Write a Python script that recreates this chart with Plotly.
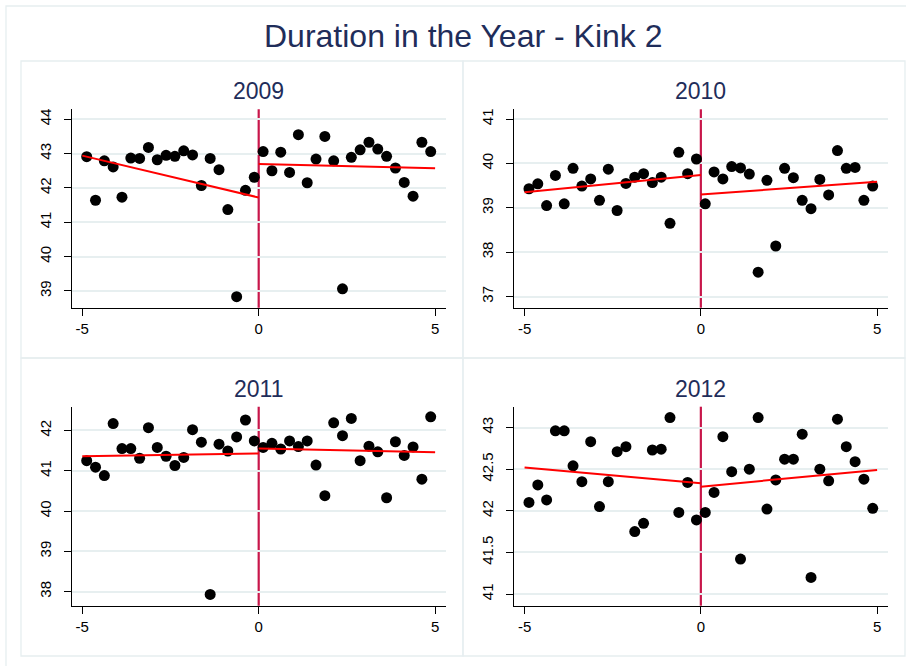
import plotly.graph_objects as go

W, H = 906, 666

bins = [-4.875, -4.625, -4.375, -4.125, -3.875, -3.625, -3.375, -3.125, -2.875, -2.625,
        -2.375, -2.125, -1.875, -1.625, -1.375, -1.125, -0.875, -0.625, -0.375, -0.125,
        0.125, 0.375, 0.625, 0.875, 1.125, 1.375, 1.625, 1.875, 2.125, 2.375,
        2.625, 2.875, 3.125, 3.375, 3.625, 3.875, 4.125, 4.375, 4.625, 4.875]

years = ["2009", "2010", "2011", "2012"]

y2009 = [42.91, 41.64, 42.79, 42.61, 41.73, 42.87, 42.86, 43.18, 42.82, 42.95,
         42.92, 43.08, 42.96, 42.07, 42.86, 42.53, 41.37, 38.83, 41.93, 42.31,
         43.06, 42.50, 43.04, 42.45, 43.55, 42.15, 42.84, 43.50, 42.79, 39.06,
         42.89, 43.11, 43.33, 43.13, 42.92, 42.58, 42.16, 41.76, 43.33, 43.06]
y2010 = [39.43, 39.54, 39.05, 39.73, 39.09, 39.89, 39.49, 39.65, 39.17, 39.87,
         38.94, 39.55, 39.69, 39.77, 39.57, 39.69, 38.65, 40.25, 39.77, 40.10,
         39.09, 39.81, 39.65, 39.93, 39.90, 39.76, 37.55, 39.62, 38.14, 39.89,
         39.68, 39.17, 38.98, 39.64, 39.29, 40.29, 39.89, 39.91, 39.17, 39.49]
y2011 = [41.25, 41.09, 40.88, 42.17, 41.55, 41.55, 41.31, 42.07, 41.58, 41.36,
         41.13, 41.33, 42.02, 41.71, 37.93, 41.66, 41.49, 41.84, 42.26, 41.74,
         41.58, 41.68, 41.54, 41.74, 41.60, 41.74, 41.14, 40.38, 42.19, 41.87,
         42.30, 41.25, 41.61, 41.47, 40.33, 41.72, 41.38, 41.59, 40.79, 42.34]
y2012 = [42.10, 42.31, 42.13, 42.96, 42.96, 42.54, 42.35, 42.83, 42.05, 42.35,
         42.71, 42.77, 41.75, 41.85, 42.73, 42.74, 43.12, 41.98, 42.34, 41.89,
         41.98, 42.22, 42.89, 42.47, 41.42, 42.50, 43.12, 42.02, 42.37, 42.62,
         42.62, 42.92, 41.20, 42.50, 42.36, 43.10, 42.77, 42.59, 42.38, 42.03]

fit_x_left = [-5, 0]
fit_x_right = [0, 5]
fit_left = {"2009": [42.94, 41.72], "2010": [39.35, 39.74], "2011": [41.36, 41.43], "2012": [42.52, 42.33]}
fit_right = {"2009": [42.70, 42.57], "2010": [39.30, 39.59], "2011": [41.55, 41.46], "2012": [42.29, 42.49]}

y_ranges = {"2009": [38.51, 44.29], "2010": [36.75, 41.22], "2011": [37.65, 42.59], "2012": [40.86, 43.25]}
y_ticks = {"2009": [39, 40, 41, 42, 43, 44], "2010": [37, 38, 39, 40, 41],
           "2011": [38, 39, 40, 41, 42], "2012": [41, 41.5, 42, 42.5, 43]}
y_ticktext = {"2009": ["39", "40", "41", "42", "43", "44"], "2010": ["37", "38", "39", "40", "41"],
              "2011": ["38", "39", "40", "41", "42"], "2012": ["41", "41.5", "42", "42.5", "43"]}
series = {"2009": y2009, "2010": y2010, "2011": y2011, "2012": y2012}

# plot area pixel boxes (left, top, right, bottom)
boxes = {"2009": (71.7, 109.3, 445.7, 307.7), "2010": (514.0, 109.3, 887.7, 307.7),
         "2011": (71.7, 406.7, 445.7, 605.7), "2012": (514.0, 406.7, 887.7, 605.7)}

FONT = "Arial, Liberation Sans, sans-serif"
NAVY = "#1f2d5a"
GRID = "#e7eff0"
FRAME = "#e6eef0"
VLINE = "#c8164a"

fig = go.Figure()
layout = dict(width=W, height=H, margin=dict(l=0, r=0, t=0, b=0),
              paper_bgcolor="white", plot_bgcolor="white", showlegend=False,
              font=dict(family=FONT, color="black", size=15))
shapes = []
annotations = []

for i, yr in enumerate(years):
    n = "" if i == 0 else str(i + 1)
    xa, ya = "x" + n, "y" + n
    l, t, r, b = boxes[yr]
    layout["xaxis" + n] = dict(domain=[l / W, r / W], range=[-5.3, 5.3], anchor=ya,
                               tickvals=[-5, 0, 5], ticktext=["-5", "0", "5"],
                               showgrid=False, zeroline=False, showline=True,
                               linecolor="black", linewidth=1.3, ticks="outside",
                               ticklen=7, tickwidth=1.3, tickcolor="black",
                               tickfont=dict(size=15, family=FONT, color="black"))
    layout["yaxis" + n] = dict(domain=[1 - b / H, 1 - t / H], range=y_ranges[yr], anchor=xa,
                               tickvals=y_ticks[yr], ticktext=y_ticktext[yr], tickangle=-90,
                               showgrid=True, gridcolor=GRID, gridwidth=1.5,
                               zeroline=False, showline=True, linecolor="black", linewidth=1.3,
                               ticks="outside", ticklen=7, tickwidth=1.3, tickcolor="black",
                               ticklabelstandoff=7,
                               tickfont=dict(size=15, family=FONT, color="black"))
    fig.add_trace(go.Scatter(x=bins, y=series[yr], mode="markers",
                             marker=dict(color="black", size=11, line=dict(width=0)),
                             xaxis=xa, yaxis=ya))
    fig.add_trace(go.Scatter(x=fit_x_left, y=fit_left[yr], mode="lines",
                             line=dict(color="#ff0000", width=2), xaxis=xa, yaxis=ya))
    fig.add_trace(go.Scatter(x=fit_x_right, y=fit_right[yr], mode="lines",
                             line=dict(color="#ff0000", width=2), xaxis=xa, yaxis=ya))
    shapes.append(dict(type="line", xref=xa, yref=ya + " domain", x0=0, x1=0, y0=0, y1=1,
                       line=dict(color=VLINE, width=2.2), layer="below"))
    annotations.append(dict(text=yr, x=(l + r) / 2 / W, y=1 - (t - 18) / H, xref="paper", yref="paper",
                            xanchor="center", yanchor="middle", showarrow=False,
                            font=dict(size=23, color=NAVY, family=FONT)))

# frames
def rect(x0, y0, x1, y1):
    return dict(type="rect", xref="paper", yref="paper", x0=x0 / W, x1=x1 / W,
                y0=1 - y1 / H, y1=1 - y0 / H, line=dict(color=FRAME, width=1.3),
                fillcolor="rgba(0,0,0,0)", layer="below")

shapes.append(rect(6, 6, 912, 672))
shapes.append(rect(21, 61, 463, 358))
shapes.append(rect(463, 61, 905, 358))
shapes.append(rect(21, 358, 463, 656))
shapes.append(rect(463, 358, 905, 656))

annotations.append(dict(text="Duration in the Year - Kink 2", x=463 / W, y=1 - 36 / H,
                        xref="paper", yref="paper", xanchor="center", yanchor="middle",
                        showarrow=False, font=dict(size=32, color=NAVY, family=FONT)))

layout["shapes"] = shapes
layout["annotations"] = annotations
fig.update_layout(**layout)
fig.write_html("out.html")
